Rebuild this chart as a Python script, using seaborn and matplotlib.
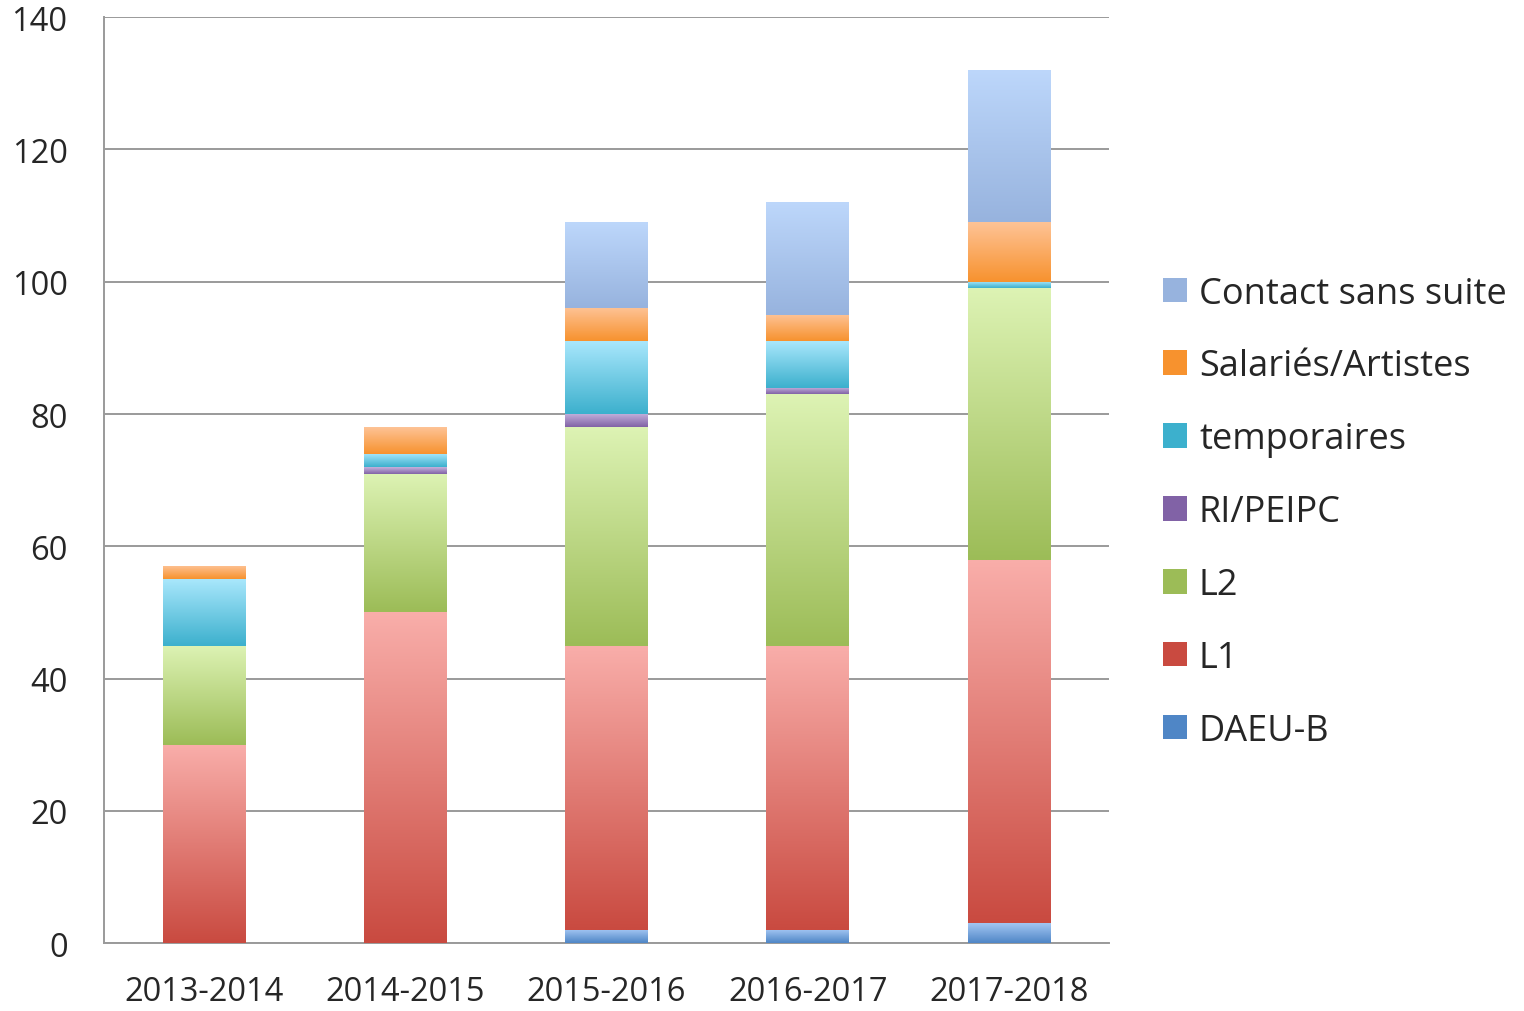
import numpy as np
import pandas as pd
import matplotlib
matplotlib.use("Agg")
import matplotlib.pyplot as plt
import seaborn as sns
from matplotlib.colors import LinearSegmentedColormap
from matplotlib.patches import Patch


# ==========================================
# Data
# ==========================================

years = ["2013-2014", "2014-2015", "2015-2016", "2016-2017", "2017-2018"]

daeu_b = [0, 0, 2, 2, 3]
l1 = [30, 50, 43, 43, 55]
l2 = [15, 21, 33, 38, 41]
ri_peipc = [0, 1, 2, 1, 0]
temporaires = [10, 2, 11, 7, 1]
salaries = [2, 4, 5, 4, 9]
contact = [0, 0, 13, 17, 23]

series_names = ["DAEU-B", "L1", "L2", "RI/PEIPC", "temporaires",
                "Salariés/Artistes", "Contact sans suite"]
series_values = [daeu_b, l1, l2, ri_peipc, temporaires, salaries, contact]

# light (top) / dark (bottom) colours of each gradient
top_colors = ["#A3C6F3", "#F9AEAA", "#DDF3B4", "#C5B3DD", "#A9E7FC", "#FEC396", "#BDD7FB"]
bottom_colors = ["#4F86C6", "#C94A40", "#9CBC57", "#8162A6", "#3CB0CD", "#F7922E", "#97B3DE"]


# ==========================================
# Figure
# ==========================================

sns.set_style("white")
plt.rcParams["font.family"] = ["Open Sans", "DejaVu Sans"]

fig = plt.figure(figsize=(15.24, 10.12), dpi=100)
ax = fig.add_axes([0.068, 0.067, 0.660, 0.915])

bottom = np.zeros(len(years))
bars = []

for name, vals in zip(series_names, series_values):
    df = pd.DataFrame({"year": years, "value": vals})
    before = len(ax.patches)
    sns.barplot(
        data=df,
        x="year",
        y="value",
        color="white",
        width=0.41,
        bottom=bottom,
        linewidth=0,
        ax=ax,
        zorder=3
    )
    bars.append(ax.patches[before:])
    bottom = bottom + np.array(vals)


# gradient fill of every segment
for patches, c_top, c_bot in zip(bars, top_colors, bottom_colors):
    cmap = LinearSegmentedColormap.from_list("g", [c_top, c_bot])
    grad = np.linspace(0, 1, 256).reshape(-1, 1)
    for p in patches:
        h = p.get_height()
        if h <= 0:
            continue
        x0 = p.get_x()
        y0 = p.get_y()
        w = p.get_width()
        p.set_facecolor(c_bot)
        im = ax.imshow(
            grad,
            cmap=cmap,
            extent=[x0, x0 + w, y0, y0 + h],
            aspect="auto",
            zorder=4,
            interpolation="bilinear"
        )
        im.set_clip_path(p)


# ==========================================
# Axes styling
# ==========================================

ax.set_xlim(-0.5, 4.5)
ax.set_ylim(0, 140)
ax.set_yticks(range(0, 141, 20))

ax.yaxis.grid(True, color="#9a9a9a", linewidth=1.4)
ax.set_axisbelow(True)

for s in ["top", "right"]:
    ax.spines[s].set_visible(False)
for s in ["left", "bottom"]:
    ax.spines[s].set_color("#9a9a9a")
    ax.spines[s].set_linewidth(1.4)

ax.set_xticks(np.arange(-0.5, 5, 1), minor=True)
ax.tick_params(axis="x", which="minor", length=11, width=1.4, color="#9a9a9a", direction="out")
ax.tick_params(axis="x", which="major", length=0, pad=23, labelsize=23.5)
ax.tick_params(axis="y", length=0, pad=26, labelsize=23.5)

ax.set_xlabel("")
ax.set_ylabel("")


# ==========================================
# Legend
# ==========================================

handles = [
    Patch(facecolor=c, edgecolor="none", label=n)
    for n, c in zip(series_names, bottom_colors)
][::-1]

fig.legend(
    handles=handles,
    loc="center left",
    bbox_to_anchor=(0.763, 0.493),
    frameon=False,
    fontsize=26,
    handlelength=0.67,
    handleheight=0.67,
    handletextpad=0.33,
    labelspacing=1.02,
    borderpad=0,
    borderaxespad=0
)

fig.savefig("out.png", dpi=100)
